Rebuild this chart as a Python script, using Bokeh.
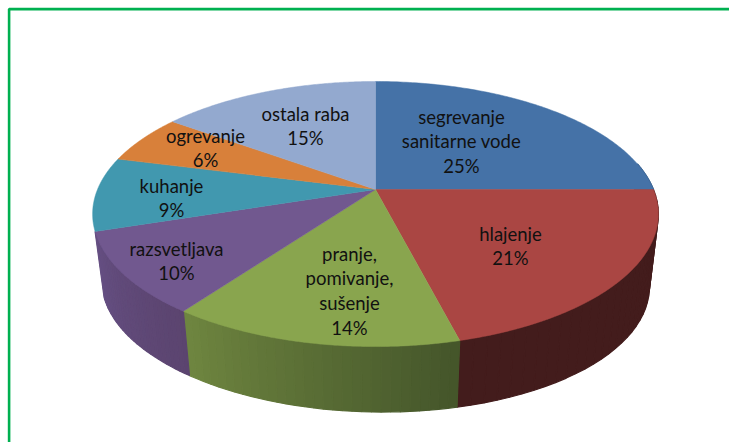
import numpy as np
from bokeh.embed import file_html
from bokeh.models import ColumnDataSource, Range1d
from bokeh.plotting import figure
from bokeh.resources import INLINE
from bokeh.core.properties import value

# Data
categories = ["segrevanje\nsanitarne vode", "hlajenje", "pranje,\npomivanje,\nsušenje",
              "razsvetljava", "kuhanje", "ogrevanje", "ostala raba"]
shares = [25, 21, 14, 10, 9, 6, 15]

# Styles
top_colors = ["#4572A7", "#AA4643", "#89A54E", "#71588F", "#4198AF", "#D8803A", "#93A9CF"]
side_left = ["#3A5F8A", "#431C1C", "#6F8640", "#654F82", "#3A8499", "#B06830", "#7A8CAB"]
side_right = ["#3A5F8A", "#431C1C", "#44552A", "#5B446F", "#3A8499", "#B06830", "#7A8CAB"]
label_centres = [(461, 116), (510, 233), (349, 253), (176, 248), (171, 185), (205, 135), (305, 113)]
LINE_STEP = 24.8
FONT = "Lato"
FONT_SIZE = "18.5px"

# Projection of the tilted pie
CX, CY, RX, RY, PERSP = 375.0, 189.0, 278.0, 128.0, 0.185
SHRINK, DEPTH, TILT = 0.968, 70.5, 0.012


def top_rim(theta):
    u, v = np.cos(theta), np.sin(theta)
    d = 1 + PERSP * v
    return CX + RX * u / d, CY - RY * v / d


def bottom_rim(theta):
    x, y = top_rim(theta)
    return CX + SHRINK * (x - CX), CY + DEPTH + SHRINK * (y - CY) + TILT * (x - CX)


def mix(a, b, t):
    ca = [int(a[i:i + 2], 16) for i in (1, 3, 5)]
    cb = [int(b[i:i + 2], 16) for i in (1, 3, 5)]
    return "#%02x%02x%02x" % tuple(round(p + (q - p) * t) for p, q in zip(ca, cb))


W, H = 729, 442
p = figure(width=W, height=H, output_backend="svg", toolbar_location=None,
           x_range=Range1d(0, W), y_range=Range1d(H, 0), min_border=0)
p.axis.visible = False
p.grid.visible = False
p.outline_line_color = None
p.background_fill_color = "white"
p.border_fill_color = "white"

# Frame
p.line([8.6, 8.6, 730], [443, 8.6, 8.6], line_color="#00B050", line_width=2.6)

edges = np.deg2rad(90 - 3.6 * np.concatenate([[0], np.cumsum(shares)]))

# Sides
FRONT_FROM, FRONT_TO = np.deg2rad(12), np.deg2rad(-162)
sx, sy, sc = [], [], []
for i in range(len(shares)):
    a = min(edges[i], FRONT_FROM)
    b = max(edges[i + 1], FRONT_TO)
    if a <= b:
        continue
    n = 30
    ts = np.linspace(a, b, n + 1)
    for k in range(n):
        x0, y0 = top_rim(ts[k])
        x1, y1 = top_rim(ts[k + 1])
        x2, y2 = bottom_rim(ts[k + 1])
        x3, y3 = bottom_rim(ts[k])
        sx.append([x0, x1, x2, x3])
        sy.append([y0, y1, y2, y3])
        sc.append(mix(side_right[i], side_left[i], (k + 0.5) / n))
p.patches("x", "y", source=ColumnDataSource(dict(x=sx, y=sy, c=sc)),
          fill_color="c", line_color="c", line_width=1.2)

# Top face
tx, ty = [], []
for i in range(len(shares)):
    ts = np.linspace(edges[i], edges[i + 1], 120)
    x, y = top_rim(ts)
    tx.append([CX] + list(x))
    ty.append([CY] + list(y))
p.patches("x", "y", source=ColumnDataSource(dict(x=tx, y=ty, c=top_colors)),
          fill_color="c", line_color="c", line_width=0.5)

# Labels
lx, ly, lt = [], [], []
for name, share, (cx, cy) in zip(categories, shares, label_centres):
    for j, line in enumerate(name.split("\n") + [f"{share}%"]):
        lx.append(cx)
        ly.append(cy + j * LINE_STEP)
        lt.append(line)
p.text("x", "y", text="t", source=ColumnDataSource(dict(x=lx, y=ly, t=lt)),
       text_font=value(FONT), text_font_size=FONT_SIZE, text_color="#111111",
       text_align="center", text_baseline="middle")

open("out.html", "w").write(file_html(p, INLINE))
